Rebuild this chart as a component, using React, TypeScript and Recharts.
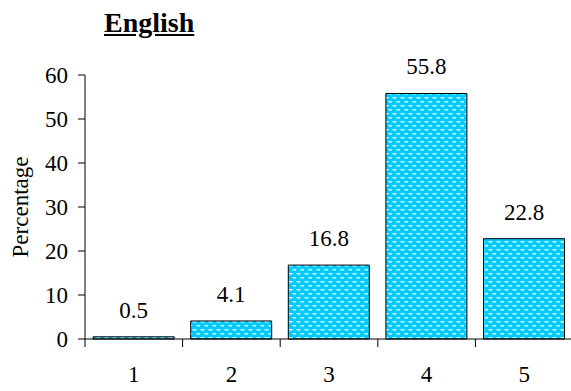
import React from 'react';
import { BarChart, Bar, XAxis, YAxis, LabelList } from 'recharts';

const categories = ['1', '2', '3', '4', '5'];
const percentages = [0.5, 4.1, 16.8, 55.8, 22.8];
const yTicks = [0, 10, 20, 30, 40, 50, 60];

const chartData = categories.map((c, i) => ({ name: c, value: percentages[i] }));

const FONT = '"Liberation Serif", "Times New Roman", serif';
const CHART_W = 573;
const CHART_H = 391;
const Y_AXIS_W = 85;
const PLOT_W = CHART_W - Y_AXIS_W;
const BAND = PLOT_W / categories.length;

// category label in the middle, tick marks at the category edges
const XTick = (props: any) => {
  const { x, y, payload, index } = props;
  const isLast = index === categories.length - 1;
  return (
    <g>
      <line x1={x - BAND / 2} x2={x - BAND / 2} y1={y} y2={y + 8} stroke="#000" />
      {isLast && <line x1={x + BAND / 2} x2={x + BAND / 2} y1={y} y2={y + 8} stroke="#000" />}
      <text x={x} y={y + 43} textAnchor="middle" fontFamily={FONT} fontSize={23} fill="#000">
        {payload.value}
      </text>
    </g>
  );
};

export default function App() {
  return (
    <div style={{ position: 'absolute', left: 0, top: 0, width: 571, height: 391, overflow: 'hidden', background: '#fff' }}>
      <div
        style={{
          position: 'absolute',
          left: 104,
          top: 9,
          fontFamily: FONT,
          fontSize: 28,
          lineHeight: '28px',
          fontWeight: 'bold',
          textDecoration: 'underline',
          color: '#000',
        }}
      >
        English
      </div>
      <BarChart
        width={CHART_W}
        height={CHART_H}
        data={chartData}
        margin={{ top: 75, right: 0, bottom: 0, left: 0 }}
        barCategoryGap="8.3%"
      >
        <defs>
          <pattern id="dashFill" width="8" height="8" patternUnits="userSpaceOnUse">
            <rect width="8" height="8" fill="#00CCFF" />
            <rect x="0.5" y="1" width="4" height="1.5" fill="#ffffff" opacity="0.85" />
            <rect x="4.5" y="5" width="4" height="1.5" fill="#ffffff" opacity="0.85" />
          </pattern>
        </defs>
        <XAxis
          dataKey="name"
          height={52}
          axisLine={{ stroke: '#000' }}
          tickLine={false}
          tickSize={0}
          tickMargin={0}
          tick={<XTick />}
        />
        <YAxis
          width={Y_AXIS_W}
          domain={[0, 60]}
          ticks={yTicks}
          interval={0}
          axisLine={{ stroke: '#000' }}
          tickLine={{ stroke: '#000' }}
          tickSize={7}
          tickMargin={10}
          tick={{ fontFamily: FONT, fontSize: 23, fill: '#000' }}
          label={{
            value: 'Percentage',
            angle: -90,
            position: 'center',
            dx: -23,
            fontFamily: FONT,
            fontSize: 23,
            fill: '#000',
          }}
        />
        <Bar dataKey="value" fill="url(#dashFill)" stroke="#000" strokeWidth={1} isAnimationActive={false}>
          <LabelList
            dataKey="value"
            position="top"
            offset={19}
            fontFamily={FONT}
            fontSize={23}
            fill="#000"
          />
        </Bar>
      </BarChart>
    </div>
  );
}
